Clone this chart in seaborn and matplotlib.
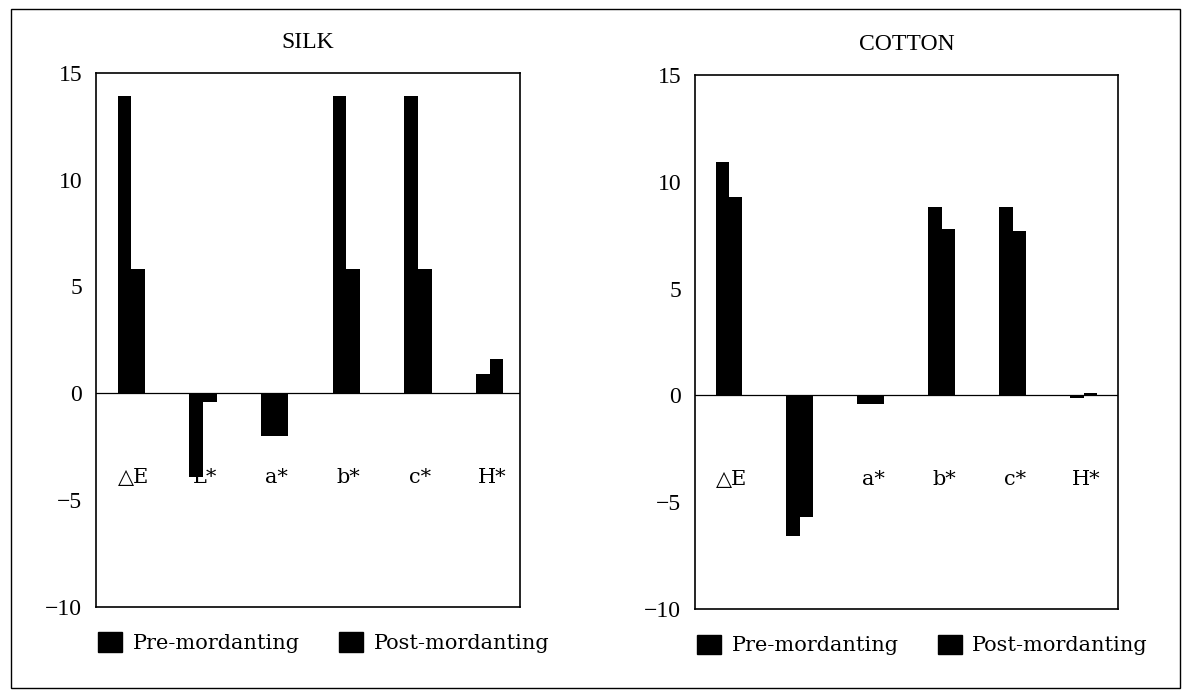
import pandas as pd
import matplotlib.pyplot as plt
import matplotlib.patches as mpatches
import seaborn as sns

# Dados
categorias = ["△E", "L*", "a*", "b*", "c*", "H*"]
series = ["Pre-mordanting", "Post-mordanting"]

silk_pre = [13.9, -3.9, -2.0, 13.9, 13.9, 0.9]
silk_post = [5.8, -0.4, -2.0, 5.8, 5.8, 1.6]

cotton_pre = [10.9, -6.6, -0.4, 8.8, 8.8, -0.1]
cotton_post = [9.3, -5.7, -0.4, 7.8, 7.7, 0.1]

y_ticks = [-10, -5, 0, 5, 10, 15]

sns.set_style("white")
plt.rcParams["font.family"] = ["Liberation Serif", "DejaVu Serif", "DejaVu Sans"]
plt.rcParams["text.color"] = "black"
plt.rcParams["ytick.color"] = "black"
plt.rcParams["ytick.labelcolor"] = "black"
fonte_texto = ["DejaVu Serif", "DejaVu Sans"]


def monta_df(pre, post):
    return pd.DataFrame({
        "categoria": categorias * 2,
        "tratamento": [series[0]] * len(categorias) + [series[1]] * len(categorias),
        "valor": pre + post,
    })


fig = plt.figure(figsize=(11.91, 6.93), dpi=100)
ax_silk = fig.add_axes([0.0806, 0.124, 0.356, 0.771])
ax_cotton = fig.add_axes([0.5835, 0.121, 0.355, 0.771])

paineis = [
    (ax_silk, "SILK", silk_pre, silk_post, (-0.49, 5.42)),
    (ax_cotton, "COTTON", cotton_pre, cotton_post, (-0.48, 5.48)),
]

for ax, titulo, pre, post, lim_x in paineis:
    df = monta_df(pre, post)
    sns.barplot(data=df, x="categoria", y="valor", hue="tratamento",
                order=categorias, hue_order=series,
                palette=["black", "black"], width=0.38, gap=0,
                saturation=1, legend=False, ax=ax, zorder=2)
    for p in ax.patches:
        p.set_linewidth(0)

    # rótulos das categorias dentro do gráfico (ficam atrás das barras)
    for i, cat in enumerate(categorias):
        ax.text(i + 0.03, -3.95, cat, ha="center", va="center",
                fontsize=15, family=fonte_texto, color="black", zorder=1)

    ax.axhline(0, color="black", lw=0.9, zorder=1.5)
    ax.set_ylim(-10, 15)
    ax.set_xlim(*lim_x)
    ax.set_yticks(y_ticks)
    ax.set_yticklabels([str(t).replace("-", "\u2212") for t in y_ticks], fontsize=17)
    ax.tick_params(axis="y", direction="in", length=7, width=0.8, pad=10,
                   colors="black")
    ax.set_xticks([])
    ax.set_xlabel("")
    ax.set_ylabel("")
    for s in ax.spines.values():
        s.set_color("black")
        s.set_linewidth(1.2)
    ax.text(0.5, 1.056, titulo, transform=ax.transAxes, ha="center",
            va="center", fontsize=17, color="black")

    handles = [mpatches.Patch(facecolor="black", edgecolor="black", label=s)
               for s in series]
    leg = ax.legend(handles=handles, loc="center left", bbox_to_anchor=(0.0, -0.067),
                    ncol=2, frameon=False, prop={"family": fonte_texto, "size": 15},
                    handlelength=1.15, handleheight=1.05, handletextpad=0.5,
                    columnspacing=1.9, borderaxespad=0, borderpad=0.1)
    for t in leg.get_texts():
        t.set_color("black")

# moldura externa
fig.patches.append(mpatches.Rectangle((0.009, 0.007), 0.982, 0.98,
                                      transform=fig.transFigure, fill=False,
                                      edgecolor="black", lw=1))

plt.savefig("out.png", dpi=100)
plt.close()
